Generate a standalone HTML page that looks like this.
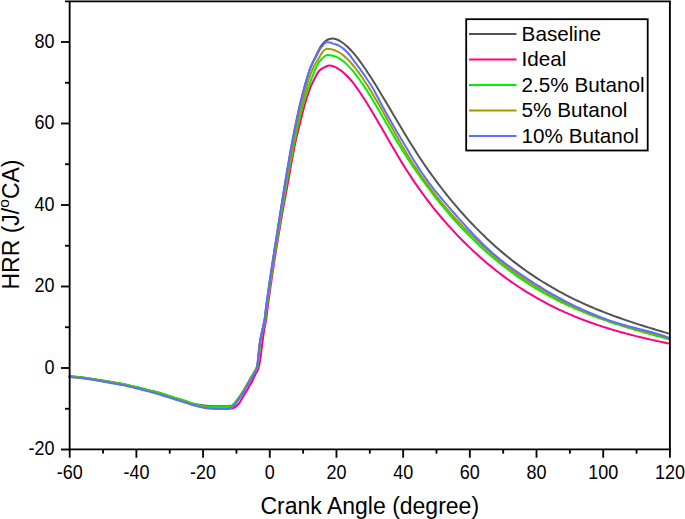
<!DOCTYPE html>
<html><head><meta charset="utf-8"><style>
html,body{margin:0;padding:0;background:#fff;width:685px;height:519px;overflow:hidden}
svg{display:block}
text{font-family:"Liberation Sans",sans-serif;fill:#000}
</style></head><body>
<svg width="685" height="519" viewBox="0 0 685 519">
<g fill="none" stroke-width="2.0" stroke-linejoin="round" stroke-linecap="round">
<path d="M69.50,376.40 C74.67,376.90 79.55,377.21 85.00,377.90 C91.05,378.67 97.75,379.79 104.00,380.80 C110.09,381.79 116.10,382.72 122.00,383.90 C127.77,385.05 133.83,386.56 139.00,387.80 C143.17,388.80 146.66,389.77 150.00,390.60 C152.66,391.27 153.74,391.35 157.00,392.30 C162.41,393.88 170.52,396.53 176.00,398.20 C179.59,399.30 181.48,399.72 184.20,400.60 C186.95,401.49 189.65,402.76 192.40,403.50 C195.08,404.22 197.78,404.60 200.50,405.00 C203.22,405.40 205.96,405.68 208.70,405.90 C211.43,406.12 214.17,406.23 216.90,406.30 C219.63,406.37 222.51,406.42 225.10,406.30 C227.41,406.19 229.83,406.02 231.60,405.60 C232.67,405.35 232.97,404.84 233.60,404.30 C234.30,403.71 234.94,403.02 235.60,402.20 C236.37,401.25 237.10,400.12 237.90,399.00 C238.77,397.78 239.70,396.51 240.60,395.20 C241.53,393.84 242.50,392.46 243.40,391.00 C244.33,389.49 245.19,387.88 246.10,386.30 C247.03,384.68 247.96,383.02 248.90,381.40 C249.83,379.79 250.85,378.03 251.70,376.60 C252.35,375.50 252.81,374.76 253.40,373.80 C254.04,372.76 254.84,371.70 255.40,370.60 C255.94,369.53 256.35,368.44 256.70,367.30 C257.05,366.14 257.27,365.38 257.50,363.70 C257.87,360.98 258.13,357.54 258.50,354.10 C258.93,350.17 259.26,345.68 259.90,341.60 C260.52,337.64 261.50,333.73 262.30,330.00 C263.04,326.53 263.94,323.35 264.52,320.00 C265.09,316.68 265.33,313.33 265.75,310.00 C266.18,306.67 266.62,303.33 267.07,300.00 C267.52,296.67 268.00,293.33 268.47,290.00 C268.95,286.67 269.43,283.33 269.92,280.00 C270.41,276.67 270.92,273.33 271.42,270.00 C271.93,266.67 272.44,263.33 272.95,260.00 C273.46,256.67 273.98,253.33 274.50,250.00 C275.02,246.67 275.54,243.33 276.06,240.00 C276.58,236.67 277.11,233.33 277.63,230.00 C278.16,226.67 278.68,223.33 279.21,220.00 C279.74,216.67 280.27,213.33 280.80,210.00 C281.33,206.67 281.87,203.33 282.40,200.00 C282.94,196.67 283.47,193.33 284.01,190.00 C284.55,186.67 285.09,183.33 285.64,180.00 C286.19,176.67 286.75,173.33 287.31,170.00 C287.87,166.67 288.44,163.33 289.02,160.00 C289.60,156.67 290.18,153.33 290.78,150.00 C291.38,146.67 291.99,143.33 292.62,140.00 C293.25,136.67 293.89,133.33 294.55,130.00 C295.21,126.66 295.90,123.33 296.60,120.00 C297.31,116.66 298.03,113.33 298.78,110.00 C299.54,106.66 300.31,103.33 301.13,100.00 C301.95,96.66 302.85,93.14 303.68,90.00 C304.41,87.24 304.93,85.24 305.80,82.30 C306.90,78.57 308.34,73.64 309.60,70.00 C310.57,67.21 311.50,65.24 312.50,63.00 C313.44,60.90 314.29,59.27 315.40,57.00 C316.79,54.17 318.50,50.33 320.00,47.70 C321.07,45.83 321.93,44.78 323.10,43.50 C324.27,42.22 325.47,40.80 327.00,40.00 C328.57,39.17 330.66,38.69 332.40,38.60 C333.99,38.51 335.63,39.03 337.00,39.46 C338.16,39.83 339.02,40.43 340.00,41.01 C341.02,41.61 342.02,42.28 343.00,43.01 C344.02,43.76 345.02,44.58 346.00,45.44 C347.02,46.33 348.02,47.27 349.00,48.25 C350.02,49.26 351.01,50.33 352.00,51.43 C353.01,52.56 354.01,53.72 355.00,54.92 C356.01,56.15 357.01,57.42 358.00,58.71 C359.01,60.03 360.01,61.38 361.00,62.75 C362.01,64.15 363.01,65.57 364.00,67.01 C365.01,68.47 366.01,69.95 367.00,71.45 C368.01,72.97 369.00,74.50 370.00,76.05 C371.00,77.61 372.00,79.19 373.00,80.78 C374.00,82.37 375.00,83.98 376.00,85.59 C377.00,87.21 378.00,88.85 379.00,90.49 C380.00,92.14 381.00,93.79 382.00,95.45 C383.00,97.12 384.00,98.79 385.00,100.47 C386.00,102.15 387.00,103.83 388.00,105.52 C389.00,107.21 390.00,108.90 391.00,110.59 C392.00,112.28 393.00,113.98 394.00,115.68 C395.00,117.37 396.00,119.07 397.00,120.76 C398.00,122.45 399.00,124.14 400.00,125.82 C401.00,127.50 402.00,129.17 403.00,130.84 C404.00,132.50 405.00,134.17 406.00,135.82 C407.00,137.46 408.00,139.10 409.00,140.73 C410.00,142.35 411.00,143.97 412.00,145.57 C413.00,147.16 414.00,148.75 415.00,150.32 C416.00,151.88 417.00,153.42 418.00,154.96 C419.00,156.49 420.00,158.00 421.00,159.51 C422.00,161.00 423.00,162.49 424.00,163.96 C425.00,165.42 426.00,166.88 427.00,168.32 C428.00,169.75 429.00,171.17 430.00,172.58 C431.00,173.98 432.00,175.37 433.00,176.75 C434.00,178.12 435.00,179.49 436.00,180.84 C437.00,182.18 438.00,183.52 439.00,184.84 C440.00,186.15 441.00,187.45 442.00,188.75 C443.00,190.04 444.00,191.32 445.00,192.59 C446.00,193.85 447.00,195.10 448.00,196.34 C449.00,197.57 450.00,198.80 451.00,200.02 C452.00,201.23 453.00,202.43 454.00,203.62 C455.00,204.80 456.00,205.98 457.00,207.15 C458.00,208.31 459.00,209.46 460.00,210.60 C461.00,211.74 462.00,212.87 463.00,213.99 C464.00,215.11 465.00,216.21 466.00,217.31 C467.00,218.40 468.00,219.49 469.00,220.56 C470.00,221.63 471.00,222.69 472.00,223.74 C473.00,224.79 474.00,225.83 475.00,226.86 C476.00,227.89 477.00,228.91 478.00,229.92 C479.00,230.93 480.00,231.92 481.00,232.91 C482.00,233.89 483.00,234.86 484.00,235.83 C485.00,236.79 486.00,237.75 487.00,238.70 C488.00,239.64 489.00,240.57 490.00,241.50 C491.00,242.42 492.00,243.33 493.00,244.24 C494.00,245.14 495.00,246.04 496.00,246.93 C497.00,247.81 498.00,248.69 499.00,249.56 C500.00,250.42 501.00,251.28 502.00,252.13 C503.00,252.97 504.00,253.81 505.00,254.64 C506.00,255.47 507.00,256.29 508.00,257.10 C509.00,257.91 510.00,258.71 511.00,259.50 C512.00,260.29 513.00,261.07 514.00,261.85 C515.00,262.62 516.00,263.39 517.00,264.15 C518.00,264.90 519.00,265.65 520.00,266.39 C521.00,267.13 522.00,267.86 523.00,268.59 C524.00,269.31 525.00,270.02 526.00,270.73 C527.00,271.44 528.00,272.14 529.00,272.83 C530.00,273.52 531.00,274.20 532.00,274.88 C533.00,275.55 534.00,276.22 535.00,276.88 C536.00,277.54 537.00,278.19 538.00,278.84 C539.00,279.48 540.00,280.12 541.00,280.75 C542.00,281.38 543.00,281.99 544.00,282.61 C545.00,283.22 546.00,283.84 547.00,284.44 C548.00,285.04 549.00,285.63 550.00,286.22 C551.00,286.81 552.00,287.39 553.00,287.96 C554.00,288.53 555.00,289.10 556.00,289.66 C557.00,290.22 558.00,290.77 559.00,291.32 C560.00,291.87 561.00,292.41 562.00,292.95 C563.00,293.48 564.00,294.01 565.00,294.53 C566.00,295.05 567.00,295.57 568.00,296.08 C569.00,296.59 570.00,297.10 571.00,297.60 C572.00,298.10 573.00,298.59 574.00,299.08 C575.00,299.57 576.00,300.04 577.00,300.52 C578.00,301.00 579.00,301.47 580.00,301.94 C581.00,302.41 582.00,302.86 583.00,303.32 C584.00,303.77 585.00,304.22 586.00,304.67 C587.00,305.11 588.00,305.55 589.00,305.99 C590.00,306.43 591.00,306.86 592.00,307.29 C593.00,307.72 594.00,308.13 595.00,308.55 C596.00,308.97 597.00,309.38 598.00,309.79 C599.00,310.20 600.00,310.60 601.00,311.00 C602.00,311.40 603.00,311.80 604.00,312.19 C605.00,312.58 606.00,312.97 607.00,313.35 C608.00,313.73 609.00,314.11 610.00,314.49 C611.00,314.87 612.00,315.24 613.00,315.61 C614.00,315.98 615.00,316.35 616.00,316.71 C617.00,317.07 618.00,317.42 619.00,317.78 C620.00,318.13 621.00,318.49 622.00,318.84 C623.00,319.19 624.00,319.54 625.00,319.88 C626.00,320.22 627.00,320.56 628.00,320.90 C629.00,321.24 630.00,321.58 631.00,321.91 C632.00,322.24 633.00,322.57 634.00,322.90 C635.00,323.23 636.00,323.55 637.00,323.87 C638.00,324.19 639.00,324.51 640.00,324.83 C641.00,325.15 642.00,325.46 643.00,325.78 C644.00,326.09 645.00,326.41 646.00,326.72 C647.00,327.03 648.00,327.34 649.00,327.65 C650.00,327.96 651.00,328.26 652.00,328.56 C653.00,328.86 654.00,329.17 655.00,329.47 C656.00,329.77 657.00,330.07 658.00,330.37 C659.00,330.67 660.00,330.96 661.00,331.26 C662.00,331.56 662.84,331.81 664.00,332.15 C665.50,332.59 667.33,333.13 669.00,333.62" stroke="#535353"/>
<path d="M69.50,376.20 C74.67,376.77 79.55,377.14 85.00,377.90 C91.05,378.74 97.76,379.92 104.00,381.00 C110.09,382.05 116.10,383.07 122.00,384.30 C127.77,385.50 133.84,387.03 139.00,388.30 C143.17,389.33 146.66,390.33 150.00,391.20 C152.66,391.89 153.74,392.02 157.00,393.00 C162.41,394.62 170.52,397.29 176.00,399.00 C179.59,400.12 181.47,400.62 184.20,401.50 C186.94,402.39 189.66,403.48 192.40,404.30 C195.09,405.11 197.78,405.80 200.50,406.40 C203.21,407.00 205.96,407.57 208.70,407.90 C211.42,408.23 214.17,408.35 216.90,408.40 C219.63,408.45 222.51,408.16 225.10,408.20 C227.41,408.23 229.80,408.66 231.60,408.60 C232.63,408.56 232.95,408.18 233.60,407.90 C234.25,407.62 234.78,407.48 235.50,406.90 C236.58,406.02 238.03,404.70 239.00,403.50 C239.89,402.40 240.40,401.17 241.10,400.00 C241.80,398.83 242.39,397.83 243.20,396.50 C244.22,394.83 245.53,392.79 246.60,391.00 C247.60,389.33 248.47,387.73 249.40,386.10 C250.33,384.47 251.30,382.96 252.20,381.20 C253.20,379.26 254.14,376.91 255.10,375.00 C255.94,373.34 256.94,371.93 257.60,370.50 C258.14,369.33 258.37,368.32 258.70,367.20 C259.04,366.06 259.31,365.36 259.60,363.70 C260.08,360.99 260.55,357.54 261.00,354.10 C261.51,350.18 261.96,345.69 262.50,341.60 C263.02,337.65 263.58,333.73 264.20,330.00 C264.78,326.53 265.59,323.34 266.12,320.00 C266.64,316.68 266.93,313.33 267.35,310.00 C267.78,306.67 268.22,303.33 268.67,300.00 C269.12,296.67 269.60,293.33 270.07,290.00 C270.55,286.67 271.03,283.33 271.52,280.00 C272.01,276.67 272.52,273.33 273.02,270.00 C273.53,266.67 274.04,263.33 274.55,260.00 C275.06,256.67 275.56,253.33 276.10,250.00 C276.64,246.67 277.21,243.33 277.77,240.00 C278.33,236.67 278.90,233.33 279.46,230.00 C280.03,226.67 280.58,223.33 281.16,220.00 C281.74,216.67 282.32,213.33 282.92,210.00 C283.52,206.67 284.13,203.33 284.74,200.00 C285.35,196.67 285.96,193.33 286.58,190.00 C287.20,186.67 287.84,183.33 288.44,180.00 C289.04,176.67 289.61,173.33 290.20,170.00 C290.79,166.67 291.38,163.33 291.99,160.00 C292.61,156.67 293.24,153.33 293.89,150.00 C294.54,146.67 295.15,143.33 295.89,140.00 C296.63,136.66 297.51,133.33 298.34,130.00 C299.17,126.67 300.02,123.33 300.86,120.00 C301.69,116.67 302.47,113.33 303.35,110.00 C304.24,106.66 305.16,103.32 306.18,100.00 C307.21,96.66 308.44,92.94 309.48,90.00 C310.25,87.84 310.65,86.77 311.60,84.70 C312.89,81.91 314.68,78.12 316.20,75.40 C317.38,73.29 318.30,71.60 319.70,70.20 C321.00,68.90 322.69,68.07 324.30,67.30 C325.89,66.54 327.72,65.80 329.30,65.60 C330.65,65.43 331.85,65.81 333.10,66.20 C334.42,66.61 335.80,67.36 337.00,68.01 C338.10,68.60 339.01,69.25 340.00,69.94 C341.01,70.66 342.02,71.42 343.00,72.24 C344.02,73.08 345.02,73.97 346.00,74.91 C347.02,75.88 348.02,76.90 349.00,77.97 C350.02,79.07 351.02,80.23 352.00,81.43 C353.02,82.67 354.01,83.98 355.00,85.31 C356.01,86.68 357.01,88.10 358.00,89.53 C359.01,90.99 360.01,92.47 361.00,93.97 C362.01,95.49 363.01,97.03 364.00,98.58 C365.01,100.15 366.01,101.73 367.00,103.33 C368.01,104.95 369.00,106.58 370.00,108.22 C371.00,109.87 372.00,111.53 373.00,113.20 C374.00,114.88 375.00,116.58 376.00,118.28 C377.00,119.98 378.00,121.69 379.00,123.41 C380.00,125.13 381.00,126.87 382.00,128.60 C383.00,130.33 384.00,132.07 385.00,133.80 C386.00,135.54 387.00,137.28 388.00,139.01 C389.00,140.74 390.00,142.47 391.00,144.20 C392.00,145.92 393.00,147.64 394.00,149.35 C395.00,151.05 396.00,152.75 397.00,154.44 C398.00,156.12 399.00,157.80 400.00,159.46 C401.00,161.11 402.00,162.75 403.00,164.37 C404.00,165.98 405.00,167.58 406.00,169.16 C407.00,170.73 408.00,172.29 409.00,173.83 C410.00,175.36 411.00,176.88 412.00,178.39 C413.00,179.89 414.00,181.37 415.00,182.84 C416.00,184.30 417.00,185.74 418.00,187.17 C419.00,188.59 420.00,190.00 421.00,191.40 C422.00,192.79 423.00,194.16 424.00,195.52 C425.00,196.87 426.00,198.21 427.00,199.54 C428.00,200.86 429.00,202.16 430.00,203.46 C431.00,204.75 432.00,206.02 433.00,207.29 C434.00,208.55 435.00,209.79 436.00,211.03 C437.00,212.25 438.00,213.46 439.00,214.67 C440.00,215.87 441.00,217.06 442.00,218.24 C443.00,219.41 444.00,220.56 445.00,221.71 C446.00,222.85 447.00,223.99 448.00,225.11 C449.00,226.23 450.00,227.33 451.00,228.43 C452.00,229.52 453.00,230.61 454.00,231.68 C455.00,232.75 456.00,233.80 457.00,234.85 C458.00,235.89 459.00,236.93 460.00,237.96 C461.00,238.98 462.00,239.99 463.00,241.00 C464.00,242.00 465.00,242.99 466.00,243.98 C467.00,244.96 468.00,245.94 469.00,246.90 C470.00,247.86 471.00,248.81 472.00,249.75 C473.00,250.69 474.00,251.63 475.00,252.55 C476.00,253.47 477.00,254.38 478.00,255.28 C479.00,256.18 480.00,257.07 481.00,257.96 C482.00,258.84 483.00,259.71 484.00,260.58 C485.00,261.44 486.00,262.29 487.00,263.14 C488.00,263.98 489.00,264.81 490.00,265.64 C491.00,266.46 492.00,267.28 493.00,268.09 C494.00,268.89 495.00,269.69 496.00,270.48 C497.00,271.27 498.00,272.05 499.00,272.82 C500.00,273.59 501.00,274.35 502.00,275.11 C503.00,275.86 504.00,276.60 505.00,277.34 C506.00,278.07 507.00,278.80 508.00,279.52 C509.00,280.24 510.00,280.95 511.00,281.65 C512.00,282.35 513.00,283.05 514.00,283.74 C515.00,284.43 516.00,285.10 517.00,285.77 C518.00,286.44 519.00,287.10 520.00,287.75 C521.00,288.40 522.00,289.05 523.00,289.69 C524.00,290.33 525.00,290.96 526.00,291.58 C527.00,292.20 528.00,292.81 529.00,293.42 C530.00,294.03 531.00,294.63 532.00,295.22 C533.00,295.81 534.00,296.40 535.00,296.98 C536.00,297.56 537.00,298.13 538.00,298.69 C539.00,299.25 540.00,299.81 541.00,300.36 C542.00,300.91 543.00,301.45 544.00,301.99 C545.00,302.52 546.00,303.05 547.00,303.57 C548.00,304.09 549.00,304.61 550.00,305.12 C551.00,305.63 552.00,306.13 553.00,306.63 C554.00,307.13 555.00,307.62 556.00,308.10 C557.00,308.58 558.00,309.06 559.00,309.53 C560.00,310.00 561.00,310.47 562.00,310.93 C563.00,311.39 564.00,311.84 565.00,312.29 C566.00,312.74 567.00,313.17 568.00,313.61 C569.00,314.04 570.00,314.47 571.00,314.90 C572.00,315.32 573.00,315.74 574.00,316.16 C575.00,316.57 576.00,316.99 577.00,317.39 C578.00,317.79 579.00,318.19 580.00,318.58 C581.00,318.97 582.00,319.36 583.00,319.74 C584.00,320.12 585.00,320.50 586.00,320.87 C587.00,321.24 588.00,321.62 589.00,321.98 C590.00,322.34 591.00,322.70 592.00,323.05 C593.00,323.40 594.00,323.75 595.00,324.10 C596.00,324.44 597.00,324.78 598.00,325.12 C599.00,325.46 600.00,325.79 601.00,326.12 C602.00,326.45 603.00,326.77 604.00,327.09 C605.00,327.41 606.00,327.73 607.00,328.04 C608.00,328.35 609.00,328.66 610.00,328.96 C611.00,329.26 612.00,329.56 613.00,329.86 C614.00,330.16 615.00,330.45 616.00,330.74 C617.00,331.03 618.00,331.32 619.00,331.60 C620.00,331.88 621.00,332.15 622.00,332.43 C623.00,332.70 624.00,332.98 625.00,333.25 C626.00,333.52 627.00,333.78 628.00,334.05 C629.00,334.31 630.00,334.58 631.00,334.84 C632.00,335.10 633.00,335.35 634.00,335.60 C635.00,335.85 636.00,336.10 637.00,336.35 C638.00,336.60 639.00,336.85 640.00,337.09 C641.00,337.33 642.00,337.57 643.00,337.81 C644.00,338.05 645.00,338.29 646.00,338.52 C647.00,338.75 648.00,338.98 649.00,339.21 C650.00,339.44 651.00,339.67 652.00,339.90 C653.00,340.13 654.00,340.35 655.00,340.57 C656.00,340.79 657.00,341.01 658.00,341.23 C659.00,341.45 660.00,341.67 661.00,341.89 C662.00,342.11 662.84,342.28 664.00,342.53 C665.50,342.85 667.33,343.24 669.00,343.59" stroke="#ff0080"/>
<path d="M69.50,376.30 C74.67,376.80 79.55,377.11 85.00,377.80 C91.05,378.57 97.75,379.69 104.00,380.70 C110.09,381.69 116.10,382.62 122.00,383.80 C127.77,384.95 133.83,386.46 139.00,387.70 C143.17,388.70 146.66,389.67 150.00,390.50 C152.66,391.17 153.74,391.25 157.00,392.20 C162.41,393.78 170.52,396.43 176.00,398.10 C179.59,399.20 181.48,399.62 184.20,400.50 C186.95,401.39 189.66,402.57 192.40,403.40 C195.09,404.21 197.78,404.85 200.50,405.40 C203.21,405.95 205.96,406.42 208.70,406.70 C211.43,406.98 214.17,407.03 216.90,407.10 C219.63,407.17 222.67,407.14 225.10,407.10 C226.90,407.07 228.27,407.24 229.60,406.90 C230.77,406.60 231.72,405.88 232.60,405.20 C233.45,404.55 234.04,403.80 234.80,402.90 C235.71,401.83 236.70,400.55 237.60,399.30 C238.53,398.02 239.39,396.64 240.30,395.30 C241.22,393.94 242.20,392.63 243.10,391.20 C244.04,389.70 244.89,388.08 245.80,386.50 C246.73,384.88 247.66,383.22 248.60,381.60 C249.53,379.99 250.54,378.23 251.40,376.80 C252.06,375.70 252.61,374.99 253.16,374.00 C253.74,372.96 254.19,371.41 254.80,370.70 C255.17,370.28 255.78,371.03 256.10,370.60 C256.62,369.90 256.97,368.44 257.30,367.30 C257.64,366.14 257.87,365.38 258.10,363.70 C258.47,360.98 258.73,357.54 259.10,354.10 C259.53,350.17 259.87,345.68 260.50,341.60 C261.11,337.65 261.98,333.72 262.80,330.00 C263.56,326.52 264.63,323.35 265.25,320.00 C265.87,316.68 266.08,313.33 266.52,310.00 C266.96,306.67 267.41,303.33 267.88,300.00 C268.35,296.67 268.83,293.33 269.32,290.00 C269.81,286.67 270.31,283.33 270.81,280.00 C271.31,276.67 271.82,273.33 272.34,270.00 C272.86,266.67 273.38,263.33 273.91,260.00 C274.44,256.67 274.96,253.33 275.50,250.00 C276.04,246.67 276.59,243.33 277.14,240.00 C277.69,236.67 278.25,233.33 278.80,230.00 C279.36,226.67 279.91,223.33 280.47,220.00 C281.03,216.67 281.58,213.33 282.14,210.00 C282.70,206.67 283.27,203.33 283.83,200.00 C284.39,196.67 284.95,193.33 285.52,190.00 C286.09,186.67 286.65,183.33 287.24,180.00 C287.83,176.67 288.45,173.33 289.07,170.00 C289.69,166.67 290.31,163.33 290.94,160.00 C291.57,156.67 292.22,153.33 292.87,150.00 C293.53,146.67 294.19,143.33 294.87,140.00 C295.55,136.67 296.25,133.33 296.97,130.00 C297.70,126.66 298.44,123.33 299.22,120.00 C300.00,116.66 300.81,113.33 301.66,110.00 C302.51,106.66 303.36,103.32 304.31,100.00 C305.26,96.66 306.40,92.94 307.36,90.00 C308.06,87.84 308.48,86.88 309.30,84.70 C310.46,81.62 312.01,77.46 313.30,74.20 C314.41,71.39 315.32,68.86 316.50,66.50 C317.56,64.39 318.63,62.52 320.00,60.80 C321.36,59.09 323.19,57.34 324.70,56.20 C325.76,55.40 326.61,55.13 327.70,55.00 C328.91,54.86 330.19,55.09 331.60,55.40 C333.29,55.78 335.43,56.43 337.00,57.07 C338.23,57.57 339.02,58.17 340.00,58.82 C341.02,59.49 342.02,60.22 343.00,61.01 C344.02,61.82 345.02,62.69 346.00,63.61 C347.02,64.56 348.01,65.56 349.00,66.60 C350.01,67.67 351.01,68.78 352.00,69.93 C353.01,71.11 354.01,72.33 355.00,73.58 C356.01,74.86 357.01,76.18 358.00,77.52 C359.01,78.89 360.01,80.28 361.00,81.70 C362.01,83.15 363.01,84.63 364.00,86.12 C365.01,87.64 366.01,89.18 367.00,90.73 C368.01,92.31 369.00,93.90 370.00,95.51 C371.00,97.13 372.00,98.77 373.00,100.42 C374.00,102.08 375.00,103.76 376.00,105.45 C377.00,107.14 378.00,108.85 379.00,110.56 C380.00,112.28 381.00,114.00 382.00,115.73 C383.00,117.46 384.00,119.19 385.00,120.92 C386.00,122.65 387.00,124.38 388.00,126.11 C389.00,127.83 390.00,129.56 391.00,131.27 C392.00,132.98 393.00,134.68 394.00,136.37 C395.00,138.05 396.00,139.72 397.00,141.38 C398.00,143.03 399.00,144.66 400.00,146.29 C401.00,147.90 402.00,149.51 403.00,151.10 C404.00,152.68 405.00,154.26 406.00,155.82 C407.00,157.37 408.00,158.91 409.00,160.44 C410.00,161.96 411.00,163.47 412.00,164.97 C413.00,166.46 414.00,167.93 415.00,169.40 C416.00,170.86 417.00,172.31 418.00,173.75 C419.00,175.18 420.00,176.59 421.00,178.00 C422.00,179.40 423.00,180.79 424.00,182.17 C425.00,183.54 426.00,184.91 427.00,186.26 C428.00,187.60 429.00,188.94 430.00,190.26 C431.00,191.58 432.00,192.88 433.00,194.18 C434.00,195.47 435.00,196.75 436.00,198.02 C437.00,199.28 438.00,200.53 439.00,201.78 C440.00,203.02 441.00,204.25 442.00,205.47 C443.00,206.68 444.00,207.88 445.00,209.08 C446.00,210.27 447.00,211.45 448.00,212.62 C449.00,213.78 450.00,214.93 451.00,216.08 C452.00,217.22 453.00,218.36 454.00,219.48 C455.00,220.60 456.00,221.70 457.00,222.80 C458.00,223.89 459.00,224.98 460.00,226.06 C461.00,227.13 462.00,228.20 463.00,229.25 C464.00,230.30 465.00,231.34 466.00,232.37 C467.00,233.40 468.00,234.41 469.00,235.42 C470.00,236.42 471.00,237.42 472.00,238.41 C473.00,239.39 474.00,240.37 475.00,241.34 C476.00,242.30 477.00,243.25 478.00,244.20 C479.00,245.14 480.00,246.08 481.00,247.00 C482.00,247.92 483.00,248.83 484.00,249.73 C485.00,250.63 486.00,251.52 487.00,252.41 C488.00,253.29 489.00,254.16 490.00,255.03 C491.00,255.89 492.00,256.74 493.00,257.59 C494.00,258.43 495.00,259.26 496.00,260.09 C497.00,260.91 498.00,261.72 499.00,262.53 C500.00,263.33 501.00,264.13 502.00,264.92 C503.00,265.70 504.00,266.48 505.00,267.25 C506.00,268.02 507.00,268.78 508.00,269.53 C509.00,270.28 510.00,271.02 511.00,271.76 C512.00,272.49 513.00,273.22 514.00,273.94 C515.00,274.65 516.00,275.36 517.00,276.06 C518.00,276.76 519.00,277.46 520.00,278.14 C521.00,278.82 522.00,279.49 523.00,280.16 C524.00,280.83 525.00,281.49 526.00,282.14 C527.00,282.79 528.00,283.43 529.00,284.07 C530.00,284.71 531.00,285.34 532.00,285.96 C533.00,286.58 534.00,287.19 535.00,287.80 C536.00,288.40 537.00,289.00 538.00,289.59 C539.00,290.18 540.00,290.77 541.00,291.35 C542.00,291.93 543.00,292.50 544.00,293.06 C545.00,293.62 546.00,294.17 547.00,294.72 C548.00,295.27 549.00,295.81 550.00,296.35 C551.00,296.89 552.00,297.42 553.00,297.94 C554.00,298.46 555.00,298.98 556.00,299.49 C557.00,300.00 558.00,300.51 559.00,301.01 C560.00,301.51 561.00,301.99 562.00,302.48 C563.00,302.97 564.00,303.45 565.00,303.93 C566.00,304.40 567.00,304.87 568.00,305.33 C569.00,305.79 570.00,306.26 571.00,306.71 C572.00,307.16 573.00,307.61 574.00,308.05 C575.00,308.49 576.00,308.93 577.00,309.36 C578.00,309.79 579.00,310.21 580.00,310.63 C581.00,311.05 582.00,311.47 583.00,311.88 C584.00,312.29 585.00,312.70 586.00,313.10 C587.00,313.50 588.00,313.91 589.00,314.30 C590.00,314.69 591.00,315.08 592.00,315.46 C593.00,315.84 594.00,316.22 595.00,316.60 C596.00,316.97 597.00,317.34 598.00,317.71 C599.00,318.08 600.00,318.44 601.00,318.80 C602.00,319.16 603.00,319.52 604.00,319.87 C605.00,320.22 606.00,320.57 607.00,320.92 C608.00,321.26 609.00,321.60 610.00,321.94 C611.00,322.28 612.00,322.62 613.00,322.95 C614.00,323.28 615.00,323.60 616.00,323.93 C617.00,324.25 618.00,324.58 619.00,324.90 C620.00,325.22 621.00,325.54 622.00,325.85 C623.00,326.16 624.00,326.47 625.00,326.78 C626.00,327.09 627.00,327.40 628.00,327.70 C629.00,328.00 630.00,328.30 631.00,328.60 C632.00,328.90 633.00,329.19 634.00,329.49 C635.00,329.78 636.00,330.08 637.00,330.37 C638.00,330.66 639.00,330.94 640.00,331.23 C641.00,331.52 642.00,331.80 643.00,332.09 C644.00,332.37 645.00,332.66 646.00,332.94 C647.00,333.22 648.00,333.49 649.00,333.77 C650.00,334.05 651.00,334.32 652.00,334.60 C653.00,334.88 654.00,335.16 655.00,335.43 C656.00,335.70 657.00,335.97 658.00,336.24 C659.00,336.51 660.00,336.79 661.00,337.06 C662.00,337.33 662.84,337.56 664.00,337.87 C665.50,338.27 667.33,338.76 669.00,339.21" stroke="#00f000"/>
<path d="M69.50,376.80 C74.67,377.33 79.55,377.67 85.00,378.40 C91.05,379.21 97.75,380.35 104.00,381.40 C110.09,382.42 116.10,383.39 122.00,384.60 C127.77,385.78 133.83,387.30 139.00,388.55 C143.17,389.56 146.66,390.55 150.00,391.40 C152.66,392.08 153.74,392.19 157.00,393.15 C162.41,394.75 170.52,397.41 176.00,399.10 C179.59,400.21 181.48,400.67 184.20,401.55 C186.94,402.44 189.66,403.58 192.40,404.40 C195.09,405.21 197.78,405.87 200.50,406.45 C203.21,407.02 205.96,407.54 208.70,407.85 C211.42,408.16 214.17,408.24 216.90,408.30 C219.63,408.36 222.68,408.28 225.10,408.20 C226.88,408.14 228.17,408.26 229.50,407.90 C230.71,407.57 231.75,406.87 232.70,406.15 C233.63,405.44 234.34,404.59 235.15,403.60 C236.09,402.45 237.03,401.06 237.95,399.75 C238.88,398.41 239.78,397.01 240.70,395.65 C241.63,394.28 242.61,392.99 243.50,391.55 C244.44,390.03 245.29,388.36 246.20,386.75 C247.12,385.12 248.06,383.47 249.00,381.85 C249.93,380.24 250.95,378.48 251.80,377.05 C252.45,375.95 252.84,375.24 253.48,374.25 C254.21,373.12 255.27,371.90 255.90,370.70 C256.47,369.62 256.77,368.54 257.10,367.40 C257.44,366.21 257.67,365.41 257.90,363.70 C258.27,360.97 258.53,357.54 258.90,354.10 C259.33,350.17 259.67,345.68 260.30,341.60 C260.91,337.65 261.80,333.73 262.60,330.00 C263.35,326.53 264.34,323.35 264.94,320.00 C265.54,316.68 265.77,313.33 266.20,310.00 C266.63,306.67 267.08,303.33 267.54,300.00 C268.00,296.67 268.49,293.33 268.97,290.00 C269.46,286.67 269.95,283.33 270.45,280.00 C270.95,276.67 271.46,273.33 271.97,270.00 C272.48,266.67 273.00,263.33 273.52,260.00 C274.04,256.67 274.57,253.33 275.10,250.00 C275.63,246.67 276.16,243.33 276.69,240.00 C277.22,236.67 277.76,233.33 278.29,230.00 C278.83,226.67 279.36,223.33 279.90,220.00 C280.44,216.67 280.98,213.33 281.52,210.00 C282.06,206.67 282.60,203.33 283.14,200.00 C283.68,196.67 284.23,193.33 284.78,190.00 C285.33,186.67 285.87,183.33 286.44,180.00 C287.01,176.66 287.62,173.33 288.22,170.00 C288.82,166.67 289.42,163.33 290.03,160.00 C290.65,156.67 291.27,153.33 291.91,150.00 C292.55,146.67 293.20,143.33 293.86,140.00 C294.53,136.67 295.20,133.33 295.90,130.00 C296.61,126.66 297.33,123.33 298.09,120.00 C298.85,116.66 299.65,113.33 300.47,110.00 C301.29,106.66 302.17,103.33 303.03,100.00 C303.89,96.67 304.83,93.09 305.64,90.00 C306.32,87.39 306.68,85.47 307.50,82.90 C308.47,79.84 309.98,75.84 311.00,73.10 C311.58,71.54 311.79,71.19 312.30,70.00 C312.95,68.49 313.62,66.62 314.50,65.00 C315.42,63.32 316.53,61.97 317.70,60.10 C319.16,57.77 320.79,54.53 322.40,52.40 C323.62,50.79 324.84,49.49 326.20,48.90 C327.37,48.39 328.73,48.92 330.00,49.10 C331.30,49.29 332.68,49.61 333.90,50.00 C335.02,50.36 335.99,50.83 337.00,51.33 C338.02,51.83 339.02,52.38 340.00,53.01 C341.02,53.66 342.02,54.38 343.00,55.15 C344.02,55.95 345.02,56.81 346.00,57.71 C347.02,58.64 348.01,59.63 349.00,60.66 C350.01,61.72 351.01,62.83 352.00,63.97 C353.01,65.14 354.01,66.36 355.00,67.61 C356.01,68.89 357.01,70.21 358.00,71.55 C359.01,72.92 360.01,74.32 361.00,75.75 C362.01,77.20 363.01,78.69 364.00,80.19 C365.01,81.71 366.01,83.26 367.00,84.83 C368.01,86.42 369.00,88.03 370.00,89.65 C371.00,91.29 372.00,92.94 373.00,94.60 C374.00,96.28 375.00,97.98 376.00,99.68 C377.00,101.40 378.00,103.13 379.00,104.86 C380.00,106.60 381.00,108.35 382.00,110.11 C383.00,111.87 384.00,113.65 385.00,115.42 C386.00,117.20 387.00,118.98 388.00,120.76 C389.00,122.54 390.00,124.33 391.00,126.11 C392.00,127.89 393.00,129.67 394.00,131.45 C395.00,133.22 396.00,134.99 397.00,136.75 C398.00,138.50 399.00,140.25 400.00,141.99 C401.00,143.72 402.00,145.44 403.00,147.15 C404.00,148.85 405.00,150.54 406.00,152.21 C407.00,153.87 408.00,155.52 409.00,157.15 C410.00,158.77 410.99,160.37 412.00,161.96 C412.99,163.52 414.00,165.07 415.00,166.60 C416.00,168.12 416.99,169.62 418.00,171.11 C418.99,172.58 420.00,174.04 421.00,175.48 C422.00,176.91 423.00,178.33 424.00,179.73 C425.00,181.12 426.00,182.49 427.00,183.86 C428.00,185.21 429.00,186.56 430.00,187.89 C431.00,189.21 432.00,190.52 433.00,191.82 C434.00,193.11 435.00,194.39 436.00,195.66 C437.00,196.92 438.00,198.17 439.00,199.41 C440.00,200.64 441.00,201.87 442.00,203.08 C443.00,204.29 444.00,205.48 445.00,206.67 C446.00,207.85 447.00,209.02 448.00,210.18 C449.00,211.33 450.00,212.48 451.00,213.61 C452.00,214.74 453.00,215.85 454.00,216.96 C455.00,218.06 456.00,219.16 457.00,220.25 C458.00,221.33 459.00,222.40 460.00,223.46 C461.00,224.52 462.00,225.56 463.00,226.60 C464.00,227.63 465.00,228.66 466.00,229.68 C467.00,230.69 468.00,231.69 469.00,232.69 C470.00,233.68 471.00,234.66 472.00,235.64 C473.00,236.62 474.00,237.59 475.00,238.56 C476.00,239.52 477.00,240.48 478.00,241.43 C479.00,242.38 480.00,243.33 481.00,244.27 C482.00,245.21 483.00,246.14 484.00,247.07 C485.00,248.00 486.00,248.92 487.00,249.83 C488.00,250.74 489.00,251.64 490.00,252.54 C491.00,253.43 492.00,254.32 493.00,255.20 C494.00,256.07 495.00,256.93 496.00,257.79 C497.00,258.64 498.00,259.49 499.00,260.32 C500.00,261.15 501.00,261.96 502.00,262.77 C503.00,263.57 504.00,264.38 505.00,265.16 C506.00,265.94 507.00,266.70 508.00,267.46 C509.00,268.21 510.00,268.96 511.00,269.69 C512.00,270.42 513.00,271.13 514.00,271.84 C515.00,272.55 516.00,273.24 517.00,273.94 C518.00,274.63 519.00,275.33 520.00,276.01 C521.00,276.69 522.00,277.37 523.00,278.04 C524.00,278.71 525.00,279.36 526.00,280.02 C527.00,280.67 528.00,281.33 529.00,281.97 C530.00,282.61 531.00,283.25 532.00,283.88 C533.00,284.51 534.00,285.14 535.00,285.76 C536.00,286.38 537.00,286.99 538.00,287.60 C539.00,288.20 540.00,288.80 541.00,289.39 C542.00,289.98 543.00,290.58 544.00,291.16 C545.00,291.74 546.00,292.31 547.00,292.88 C548.00,293.45 549.00,294.01 550.00,294.57 C551.00,295.13 552.00,295.68 553.00,296.23 C554.00,296.78 555.00,297.32 556.00,297.85 C557.00,298.38 558.00,298.91 559.00,299.43 C560.00,299.95 561.00,300.47 562.00,300.98 C563.00,301.49 564.00,301.99 565.00,302.49 C566.00,302.99 567.00,303.48 568.00,303.97 C569.00,304.46 570.00,304.93 571.00,305.41 C572.00,305.89 573.00,306.36 574.00,306.83 C575.00,307.29 576.00,307.75 577.00,308.20 C578.00,308.65 579.00,309.11 580.00,309.55 C581.00,309.99 582.00,310.43 583.00,310.86 C584.00,311.29 585.00,311.72 586.00,312.14 C587.00,312.56 588.00,312.98 589.00,313.39 C590.00,313.80 591.00,314.21 592.00,314.61 C593.00,315.01 594.00,315.41 595.00,315.80 C596.00,316.19 597.00,316.57 598.00,316.95 C599.00,317.33 600.00,317.71 601.00,318.08 C602.00,318.45 603.00,318.82 604.00,319.18 C605.00,319.54 606.00,319.90 607.00,320.25 C608.00,320.60 609.00,320.94 610.00,321.28 C611.00,321.62 612.00,321.96 613.00,322.29 C614.00,322.62 615.00,322.95 616.00,323.27 C617.00,323.59 618.00,323.92 619.00,324.23 C620.00,324.54 621.00,324.85 622.00,325.15 C623.00,325.45 624.00,325.75 625.00,326.05 C626.00,326.34 627.00,326.63 628.00,326.92 C629.00,327.21 630.00,327.49 631.00,327.77 C632.00,328.05 633.00,328.32 634.00,328.60 C635.00,328.87 636.00,329.15 637.00,329.42 C638.00,329.69 639.00,329.96 640.00,330.23 C641.00,330.50 642.00,330.76 643.00,331.03 C644.00,331.30 645.00,331.57 646.00,331.84 C647.00,332.11 648.00,332.37 649.00,332.64 C650.00,332.91 651.00,333.19 652.00,333.46 C653.00,333.74 654.00,334.01 655.00,334.29 C656.00,334.57 657.00,334.85 658.00,335.14 C659.00,335.43 660.00,335.72 661.00,336.02 C662.00,336.32 662.84,336.56 664.00,336.92 C665.50,337.38 667.33,337.97 669.00,338.49" stroke="#a39a00"/>
<path d="M69.50,376.90 C74.67,377.47 79.55,377.84 85.00,378.60 C91.05,379.44 97.76,380.62 104.00,381.70 C110.09,382.75 116.10,383.77 122.00,385.00 C127.77,386.20 133.84,387.73 139.00,389.00 C143.17,390.03 146.66,391.03 150.00,391.90 C152.66,392.59 153.74,392.72 157.00,393.70 C162.41,395.32 170.52,397.99 176.00,399.70 C179.59,400.82 181.47,401.32 184.20,402.20 C186.94,403.09 189.66,404.18 192.40,405.00 C195.09,405.81 197.78,406.50 200.50,407.10 C203.21,407.70 205.96,408.27 208.70,408.60 C211.42,408.93 214.17,409.05 216.90,409.10 C219.63,409.15 222.68,408.98 225.10,408.90 C226.85,408.84 228.08,409.04 229.40,408.70 C230.65,408.38 231.79,407.66 232.80,406.90 C233.82,406.13 234.64,405.18 235.50,404.10 C236.47,402.88 237.37,401.38 238.30,400.00 C239.24,398.61 240.16,397.19 241.10,395.80 C242.03,394.42 243.01,393.16 243.90,391.70 C244.84,390.16 245.69,388.43 246.60,386.80 C247.52,385.16 248.46,383.52 249.40,381.90 C250.33,380.29 251.37,378.54 252.20,377.10 C252.83,376.00 253.26,375.30 253.80,374.30 C254.39,373.20 255.09,371.97 255.60,370.80 C256.09,369.70 256.48,368.65 256.80,367.50 C257.14,366.29 257.37,365.43 257.60,363.70 C257.97,360.97 258.23,357.54 258.60,354.10 C259.03,350.17 259.36,345.68 260.00,341.60 C260.62,337.64 261.62,333.73 262.40,330.00 C263.13,326.53 263.96,323.35 264.52,320.00 C265.08,316.68 265.33,313.33 265.75,310.00 C266.18,306.67 266.62,303.33 267.07,300.00 C267.52,296.67 268.00,293.33 268.47,290.00 C268.95,286.67 269.43,283.33 269.92,280.00 C270.41,276.67 270.92,273.33 271.42,270.00 C271.93,266.67 272.44,263.33 272.95,260.00 C273.46,256.67 273.98,253.33 274.50,250.00 C275.02,246.67 275.54,243.33 276.06,240.00 C276.58,236.67 277.11,233.33 277.63,230.00 C278.16,226.67 278.68,223.33 279.21,220.00 C279.74,216.67 280.27,213.33 280.80,210.00 C281.33,206.67 281.87,203.33 282.40,200.00 C282.94,196.67 283.47,193.33 284.01,190.00 C284.55,186.67 285.09,183.33 285.64,180.00 C286.19,176.67 286.75,173.33 287.31,170.00 C287.87,166.67 288.44,163.33 289.02,160.00 C289.60,156.67 290.18,153.33 290.78,150.00 C291.38,146.67 291.99,143.33 292.62,140.00 C293.25,136.67 293.89,133.33 294.55,130.00 C295.21,126.66 295.90,123.33 296.60,120.00 C297.31,116.66 298.03,113.33 298.78,110.00 C299.54,106.66 300.31,103.33 301.13,100.00 C301.95,96.66 302.85,93.14 303.68,90.00 C304.41,87.24 304.96,85.17 305.80,82.30 C306.83,78.77 308.10,74.26 309.30,70.80 C310.27,68.00 311.23,65.75 312.30,63.50 C313.26,61.49 314.26,60.11 315.40,58.00 C316.83,55.37 318.43,51.83 320.00,49.30 C321.26,47.27 322.68,45.68 323.90,44.30 C324.75,43.34 325.24,42.57 326.20,42.30 C327.27,42.00 328.74,42.34 330.00,42.60 C331.31,42.87 332.66,43.53 333.90,43.90 C334.99,44.23 336.00,44.31 337.00,44.70 C338.03,45.10 339.02,45.67 340.00,46.27 C341.02,46.89 342.02,47.58 343.00,48.35 C344.02,49.15 345.03,50.03 346.00,50.99 C347.03,52.00 348.03,53.08 349.00,54.24 C350.03,55.46 351.01,56.78 352.00,58.11 C353.01,59.47 353.99,60.94 355.00,62.32 C355.99,63.68 357.00,64.99 358.00,66.33 C359.00,67.67 360.01,68.98 361.00,70.35 C362.01,71.76 363.01,73.21 364.00,74.67 C365.01,76.15 366.00,77.67 367.00,79.18 C368.00,80.70 369.01,82.21 370.00,83.75 C371.01,85.32 372.02,86.86 373.00,88.52 C374.02,90.25 375.01,92.08 376.00,93.92 C377.01,95.82 378.00,97.81 379.00,99.74 C380.00,101.65 380.99,103.57 382.00,105.45 C382.99,107.31 384.00,109.14 385.00,110.97 C386.00,112.78 387.00,114.57 388.00,116.35 C389.00,118.12 390.00,119.87 391.00,121.61 C392.00,123.34 393.00,125.06 394.00,126.78 C395.00,128.49 396.00,130.20 397.00,131.90 C398.00,133.60 399.00,135.29 400.00,136.98 C401.00,138.67 402.00,140.36 403.00,142.04 C404.00,143.72 405.00,145.40 406.00,147.08 C407.00,148.76 408.00,150.43 409.00,152.11 C410.00,153.79 411.00,155.47 412.00,157.14 C413.00,158.80 413.99,160.45 415.00,162.09 C415.99,163.71 416.99,165.32 418.00,166.90 C418.99,168.46 419.99,169.99 421.00,171.50 C421.99,172.99 422.99,174.46 424.00,175.90 C424.99,177.32 425.99,178.72 427.00,180.10 C427.99,181.46 428.99,182.80 430.00,184.13 C430.99,185.44 432.00,186.74 433.00,188.02 C434.00,189.29 435.00,190.54 436.00,191.79 C437.00,193.02 438.00,194.25 439.00,195.46 C440.00,196.66 441.00,197.85 442.00,199.04 C443.00,200.22 444.00,201.40 445.00,202.57 C446.00,203.74 447.00,204.91 448.00,206.07 C449.00,207.23 450.00,208.39 451.00,209.55 C452.00,210.71 453.00,211.86 454.00,213.01 C455.00,214.16 456.00,215.30 457.00,216.44 C458.00,217.57 459.00,218.70 460.00,219.83 C461.00,220.95 462.00,222.07 463.00,223.19 C464.00,224.30 465.00,225.41 466.00,226.51 C467.00,227.60 468.00,228.69 469.00,229.77 C470.00,230.85 471.00,231.92 472.00,232.98 C473.00,234.04 474.00,235.09 475.00,236.13 C476.00,237.17 477.00,238.20 478.00,239.22 C479.00,240.23 480.00,241.24 481.00,242.23 C482.00,243.22 483.00,244.19 484.00,245.16 C485.00,246.12 486.00,247.08 487.00,248.02 C488.00,248.95 489.00,249.87 490.00,250.78 C491.00,251.68 492.00,252.58 493.00,253.46 C494.00,254.33 495.00,255.19 496.00,256.03 C497.00,256.87 498.00,257.70 499.00,258.51 C500.00,259.32 501.00,260.11 502.00,260.89 C503.00,261.67 504.00,262.44 505.00,263.20 C506.00,263.96 507.00,264.70 508.00,265.44 C509.00,266.17 510.00,266.89 511.00,267.61 C512.00,268.33 513.00,269.04 514.00,269.74 C515.00,270.44 516.00,271.13 517.00,271.82 C518.00,272.51 519.00,273.20 520.00,273.88 C521.00,274.56 522.00,275.24 523.00,275.91 C524.00,276.58 525.00,277.24 526.00,277.90 C527.00,278.56 528.00,279.22 529.00,279.87 C530.00,280.52 531.00,281.17 532.00,281.81 C533.00,282.45 534.00,283.09 535.00,283.72 C536.00,284.35 537.00,284.98 538.00,285.60 C539.00,286.22 540.00,286.83 541.00,287.44 C542.00,288.05 543.00,288.66 544.00,289.26 C545.00,289.86 546.00,290.45 547.00,291.04 C548.00,291.63 549.00,292.21 550.00,292.79 C551.00,293.37 552.00,293.94 553.00,294.51 C554.00,295.08 555.00,295.64 556.00,296.20 C557.00,296.76 558.00,297.30 559.00,297.85 C560.00,298.39 561.00,298.94 562.00,299.47 C563.00,300.00 564.00,300.53 565.00,301.05 C566.00,301.57 567.00,302.09 568.00,302.60 C569.00,303.11 570.00,303.62 571.00,304.12 C572.00,304.62 573.00,305.11 574.00,305.60 C575.00,306.09 576.00,306.57 577.00,307.05 C578.00,307.53 579.00,307.99 580.00,308.46 C581.00,308.92 582.00,309.39 583.00,309.84 C584.00,310.29 585.00,310.74 586.00,311.18 C587.00,311.62 588.00,312.06 589.00,312.49 C590.00,312.92 591.00,313.34 592.00,313.76 C593.00,314.18 594.00,314.59 595.00,315.00 C596.00,315.41 597.00,315.81 598.00,316.20 C599.00,316.59 600.00,316.98 601.00,317.36 C602.00,317.74 603.00,318.11 604.00,318.48 C605.00,318.85 606.00,319.21 607.00,319.57 C608.00,319.93 609.00,320.28 610.00,320.63 C611.00,320.97 612.00,321.31 613.00,321.64 C614.00,321.97 615.00,322.30 616.00,322.62 C617.00,322.94 618.00,323.25 619.00,323.56 C620.00,323.87 621.00,324.17 622.00,324.46 C623.00,324.75 624.00,325.04 625.00,325.32 C626.00,325.60 627.00,325.88 628.00,326.15 C629.00,326.42 630.00,326.68 631.00,326.94 C632.00,327.20 633.00,327.45 634.00,327.71 C635.00,327.96 636.00,328.22 637.00,328.47 C638.00,328.72 639.00,328.97 640.00,329.22 C641.00,329.47 642.00,329.72 643.00,329.97 C644.00,330.22 645.00,330.48 646.00,330.74 C647.00,331.00 648.00,331.26 649.00,331.52 C650.00,331.78 651.00,332.05 652.00,332.32 C653.00,332.59 654.00,332.87 655.00,333.16 C656.00,333.45 657.00,333.74 658.00,334.04 C659.00,334.34 660.00,334.66 661.00,334.98 C662.00,335.30 662.84,335.57 664.00,335.97 C665.51,336.50 667.33,337.17 669.00,337.77" stroke="#5a6eff"/>
</g>
<g stroke="#000" stroke-width="1.85" fill="none">
<line x1="61.00" y1="449.50" x2="69.65" y2="449.50"/>
<line x1="65.00" y1="408.75" x2="69.65" y2="408.75"/>
<line x1="61.00" y1="368.00" x2="69.65" y2="368.00"/>
<line x1="65.00" y1="327.25" x2="69.65" y2="327.25"/>
<line x1="61.00" y1="286.50" x2="69.65" y2="286.50"/>
<line x1="65.00" y1="245.75" x2="69.65" y2="245.75"/>
<line x1="61.00" y1="205.00" x2="69.65" y2="205.00"/>
<line x1="65.00" y1="164.25" x2="69.65" y2="164.25"/>
<line x1="61.00" y1="123.50" x2="69.65" y2="123.50"/>
<line x1="65.00" y1="82.75" x2="69.65" y2="82.75"/>
<line x1="61.00" y1="42.00" x2="69.65" y2="42.00"/>
<line x1="69.71" y1="449.30" x2="69.71" y2="457.70"/>
<line x1="103.05" y1="449.30" x2="103.05" y2="453.60"/>
<line x1="136.39" y1="449.30" x2="136.39" y2="457.70"/>
<line x1="169.74" y1="449.30" x2="169.74" y2="453.60"/>
<line x1="203.08" y1="449.30" x2="203.08" y2="457.70"/>
<line x1="236.43" y1="449.30" x2="236.43" y2="453.60"/>
<line x1="269.77" y1="449.30" x2="269.77" y2="457.70"/>
<line x1="303.11" y1="449.30" x2="303.11" y2="453.60"/>
<line x1="336.46" y1="449.30" x2="336.46" y2="457.70"/>
<line x1="369.80" y1="449.30" x2="369.80" y2="453.60"/>
<line x1="403.15" y1="449.30" x2="403.15" y2="457.70"/>
<line x1="436.49" y1="449.30" x2="436.49" y2="453.60"/>
<line x1="469.83" y1="449.30" x2="469.83" y2="457.70"/>
<line x1="503.18" y1="449.30" x2="503.18" y2="453.60"/>
<line x1="536.52" y1="449.30" x2="536.52" y2="457.70"/>
<line x1="569.87" y1="449.30" x2="569.87" y2="453.60"/>
<line x1="603.21" y1="449.30" x2="603.21" y2="457.70"/>
<line x1="636.55" y1="449.30" x2="636.55" y2="453.60"/>
<line x1="669.90" y1="449.30" x2="669.90" y2="457.70"/>
<line x1="69.65" y1="1.30" x2="69.65" y2="450.20"/>
<line x1="669.90" y1="1.30" x2="669.90" y2="450.20"/>
<line x1="68.75" y1="449.30" x2="670.80" y2="449.30"/>
<line x1="65.00" y1="1.30" x2="670.80" y2="1.30" stroke-width="1.7"/>
</g>
<g font-size="20">
<text transform="translate(54.4,455.00) scale(0.9,1)" text-anchor="end">-20</text>
<text transform="translate(54.4,373.50) scale(0.9,1)" text-anchor="end">0</text>
<text transform="translate(54.4,292.00) scale(0.9,1)" text-anchor="end">20</text>
<text transform="translate(54.4,210.50) scale(0.9,1)" text-anchor="end">40</text>
<text transform="translate(54.4,129.00) scale(0.9,1)" text-anchor="end">60</text>
<text transform="translate(54.4,47.50) scale(0.9,1)" text-anchor="end">80</text>
<text transform="translate(69.71,478.8) scale(0.9,1)" text-anchor="middle">-60</text>
<text transform="translate(136.39,478.8) scale(0.9,1)" text-anchor="middle">-40</text>
<text transform="translate(203.08,478.8) scale(0.9,1)" text-anchor="middle">-20</text>
<text transform="translate(269.77,478.8) scale(0.9,1)" text-anchor="middle">0</text>
<text transform="translate(336.46,478.8) scale(0.9,1)" text-anchor="middle">20</text>
<text transform="translate(403.15,478.8) scale(0.9,1)" text-anchor="middle">40</text>
<text transform="translate(469.83,478.8) scale(0.9,1)" text-anchor="middle">60</text>
<text transform="translate(536.52,478.8) scale(0.9,1)" text-anchor="middle">80</text>
<text transform="translate(603.21,478.8) scale(0.9,1)" text-anchor="middle">100</text>
<text transform="translate(669.90,478.8) scale(0.9,1)" text-anchor="middle">120</text>
</g>
<g font-size="20.7">
<rect x="466.2" y="19.2" width="181.5" height="131.3" fill="none" stroke="#000" stroke-width="1.8"/>
<line x1="469" y1="34.00" x2="516.5" y2="34.00" stroke="#535353" stroke-width="2"/>
<text x="521.6" y="40.60">Baseline</text>
<line x1="469" y1="59.50" x2="516.5" y2="59.50" stroke="#ff0080" stroke-width="2"/>
<text x="521.6" y="66.10">Ideal</text>
<line x1="469" y1="85.00" x2="516.5" y2="85.00" stroke="#00f000" stroke-width="2"/>
<text x="521.6" y="91.60">2.5% Butanol</text>
<line x1="469" y1="110.50" x2="516.5" y2="110.50" stroke="#a39a00" stroke-width="2"/>
<text x="521.6" y="117.10">5% Butanol</text>
<line x1="469" y1="136.00" x2="516.5" y2="136.00" stroke="#5a6eff" stroke-width="2"/>
<text x="521.6" y="142.60">10% Butanol</text>
</g>
<text x="369.75" y="514" font-size="23" text-anchor="middle">Crank Angle (degree)</text>
<text transform="translate(18.5,224.5) rotate(-90)" font-size="23" text-anchor="middle">HRR (J/<tspan font-size="15.5" dy="-9.8">o</tspan><tspan dy="9.8">CA)</tspan></text>
</svg>
</body></html>
